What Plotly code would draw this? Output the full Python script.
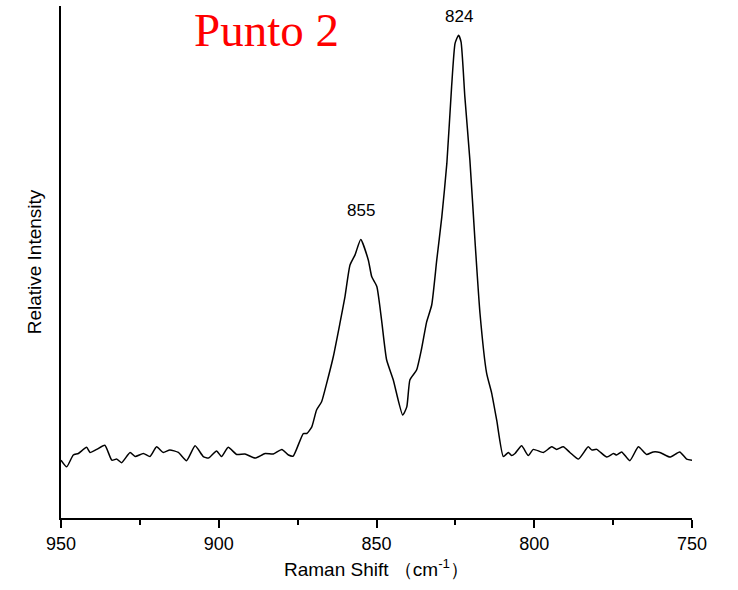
import plotly.graph_objects as go

# Raman spectrum, measurement point 2 (relative intensity, arbitrary units)
raman_shift = [
    950.0, 948.2, 946.1, 944.5, 941.9, 940.8, 938.7, 936.1, 933.9, 932.3,
    930.8, 928.1, 926.5, 923.9, 921.8, 919.7, 917.6, 915.5, 912.8, 910.2,
    907.5, 904.9, 903.3, 900.7, 899.1, 897.0, 894.3, 891.7, 888.5, 885.3,
    882.7, 880.0, 877.9, 876.4, 873.2, 872.1, 870.5, 869.0, 867.4, 865.8,
    863.7, 861.6, 860.0, 858.4, 856.8, 855.0, 852.6, 851.5, 849.9, 848.4,
    846.8, 844.7, 841.7, 840.4, 839.4, 837.3, 835.7, 834.1, 832.5, 830.9,
    829.3, 827.7, 826.2, 825.1, 824.0, 823.2, 822.0, 820.4, 818.8, 817.2,
    815.1, 813.5, 811.9, 809.8, 808.2, 807.2, 806.1, 804.0, 801.9, 800.3,
    797.1, 794.5, 792.9, 790.8, 788.7, 786.0, 782.9, 781.8, 780.2, 777.0,
    774.9, 773.9, 772.3, 769.7, 767.0, 764.4, 762.3, 760.2, 757.0, 753.9,
    751.7, 750.0,
]
intensity = [
    11.3, 10.0, 12.3, 12.6, 13.8, 12.8, 13.4, 14.2, 11.3, 11.5,
    10.8, 12.8, 12.0, 12.6, 12.0, 13.9, 12.8, 13.3, 12.8, 11.2,
    14.1, 12.0, 11.7, 13.1, 12.0, 13.8, 12.4, 12.5, 11.7, 12.6,
    12.5, 13.4, 12.3, 12.1, 16.5, 16.5, 17.8, 21.1, 22.7, 26.3,
    31.5, 38.0, 43.2, 49.4, 51.4, 54.4, 50.4, 47.1, 45.2, 38.7,
    30.9, 27.0, 20.1, 21.7, 27.0, 28.9, 33.1, 38.3, 41.6, 50.4,
    58.8, 69.3, 84.2, 92.7, 94.3, 93.0, 82.3, 69.9, 54.3, 40.0,
    28.3, 24.4, 19.1, 12.0, 12.8, 12.2, 12.6, 14.1, 12.2, 13.4,
    12.8, 13.9, 13.4, 13.9, 12.8, 11.5, 13.9, 13.3, 13.4, 11.9,
    12.6, 12.3, 12.9, 11.2, 13.9, 12.4, 12.9, 12.8, 11.9, 12.9,
    11.5, 11.3,
]

peak_positions = [855, 824]
peak_labels = ["855", "824"]

x_ticks = [950, 900, 850, 800, 750]

fig = go.Figure()
fig.add_trace(go.Scatter(
    x=raman_shift, y=intensity, mode="lines",
    line=dict(color="black", width=1.5, shape="spline", smoothing=0.5),
    hoverinfo="skip", showlegend=False,
))

for pos, lab in zip(peak_positions, peak_labels):
    peak_y = intensity[raman_shift.index(float(pos))]
    fig.add_annotation(
        x=pos, y=peak_y, text=lab, showarrow=False,
        yanchor="bottom", yshift=17 if pos == 855 else 7,
        font=dict(family="Liberation Sans, Arial", size=17, color="black"),
    )

fig.add_annotation(
    x=0.325, xref="paper", y=1.008, yref="paper", text="Punto 2",
    showarrow=False, xanchor="center", yanchor="top",
    font=dict(family="Liberation Serif, Times New Roman", size=47, color="red"),
)

fig.update_layout(
    width=738, height=590,
    margin=dict(l=61, r=46, t=6, b=72),
    paper_bgcolor="white", plot_bgcolor="white",
    font=dict(family="Liberation Sans, Arial", color="black"),
    xaxis=dict(
        range=[950, 750], tickvals=x_ticks,
        ticks="outside", ticklen=8, tickwidth=1.5, tickcolor="black",
        minor=dict(dtick=25, ticks="outside", ticklen=5, tickwidth=1.5, tickcolor="black"),
        showline=True, linecolor="black", linewidth=2,
        showgrid=False, zeroline=False,
        tickfont=dict(size=18),
        title=dict(text="Raman Shift （cm<sup>-1</sup>）", font=dict(size=19), standoff=10),
    ),
    yaxis=dict(
        range=[0, 100], showticklabels=False, ticks="",
        showline=True, linecolor="black", linewidth=2,
        showgrid=False, zeroline=False,
        title=dict(text="Relative Intensity", font=dict(size=19), standoff=12),
    ),
)

fig.write_html("out.html")
